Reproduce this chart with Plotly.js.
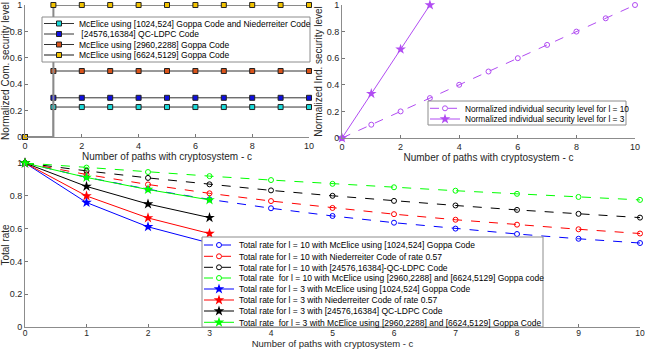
<!DOCTYPE html>
<html>
<head>
<meta charset="utf-8">
<script src="https://cdn.plot.ly/plotly-3.0.1.min.js"></script>
<style>
  html, body { margin: 0; padding: 0; background: #fff; }
  #chart { width: 648px; height: 349px; }
</style>
</head>
<body>
<div id="chart"></div>
<script>
// paths with cryptosystem
var c10 = [0, 1, 2, 3, 4, 5, 6, 7, 8, 9, 10];
var c3 = [0, 1, 2, 3];

// normalized combined security level (stairs from 0 to 1)
var comSecurity = {
  goppa1024: 0.227,
  qcldpc: 0.297,
  goppa2960: 0.5,
  goppa6624: 1.0
};

// normalized individual security level
var indSecL10 = [0, 0.1, 0.2, 0.3, 0.4, 0.5, 0.6, 0.7, 0.8, 0.9, 1.0];
var indSecL3 = [0, 0.333, 0.667, 1.0];

// total rate, l = 10
var rateL10Goppa1024 = [1, 0.913, 0.840, 0.778, 0.724, 0.677, 0.636, 0.600, 0.567, 0.538, 0.512];
var rateL10Nied = [1, 0.930, 0.869, 0.815, 0.768, 0.726, 0.688, 0.654, 0.624, 0.596, 0.570];
var rateL10Ldpc = [1, 0.952, 0.909, 0.870, 0.833, 0.800, 0.769, 0.741, 0.714, 0.690, 0.667];
var rateL10Goppa2960 = [1, 0.972, 0.945, 0.920, 0.896, 0.873, 0.852, 0.831, 0.812, 0.793, 0.775];

// total rate, l = 3
var rateL3Goppa1024 = [1, 0.759, 0.611, 0.512];
var rateL3Nied = [1, 0.799, 0.665, 0.570];
var rateL3Ldpc = [1, 0.857, 0.750, 0.667];
var rateL3Goppa2960 = [1, 0.912, 0.838, 0.775];

var W = 648, H = 349;
function px(x) { return x / W; }
function py(y) { return 1 - y / H; }

var FONT = 'Liberation Sans, Arial, sans-serif';
var TXT = '#262626';
var PURPLE = '#b14cf2';

function comLine(v) {
  return c10.map(function(c) { return c === 0 ? 0 : v; });
}

var traces = [];
var legends = {};
var legendCount = 0;

// one legend per entry so the rows can sit as tight as in the original
function addLegend(xpx, ypx, size) {
  legendCount += 1;
  var name = legendCount === 1 ? 'legend' : 'legend' + legendCount;
  legends[name] = {
    x: px(xpx), y: py(ypx), xanchor: 'left', yanchor: 'middle',
    bgcolor: 'rgba(0,0,0,0)', borderwidth: 0,
    font: {family: FONT, size: size, color: '#000'},
    itemwidth: 30, tracegroupgap: 0
  };
  return name;
}

// top-left: combined security level
var comSeries = [
  {name: 'McElice using [1024,524] Goppa Code and Niederreiter Code', v: comSecurity.goppa1024, color: '#19d9d9', line: '#333333', w: 1},
  {name: ' [24576,16384] QC-LDPC Code', v: comSecurity.qcldpc, color: '#1010e0', line: '#333333', w: 1},
  {name: 'McElice using [2960,2288] Goppa Code', v: comSecurity.goppa2960, color: '#d9531a', line: '#333333', w: 1},
  {name: 'McElice using [6624,5129] Goppa Code', v: comSecurity.goppa6624, color: '#f2c200', line: '#8a8a8a', w: 2}
];
var tlLegY = [23.5, 34, 44.5, 55];
comSeries.forEach(function(s, i) {
  traces.push({
    x: c10, y: comLine(s.v), type: 'scatter', mode: 'lines+markers',
    name: s.name, xaxis: 'x', yaxis: 'y', cliponaxis: false,
    line: {color: s.line, width: s.w, shape: 'hv'},
    marker: {symbol: 'square', size: 5, color: s.color, line: {color: '#222', width: 1}},
    legend: addLegend(39, tlLegY[i], 8.5)
  });
});

// top-right: individual security level
traces.push({
  x: c10, y: indSecL10, type: 'scatter', mode: 'lines+markers',
  name: 'Normalized individual security level for l = 10', xaxis: 'x2', yaxis: 'y2', cliponaxis: false,
  line: {color: PURPLE, width: 1, dash: 'dash'},
  marker: {symbol: 'circle-open', size: 5, color: PURPLE},
  legend: addLegend(425, 108.3, 8.3)
});
traces.push({
  x: c3, y: indSecL3, type: 'scatter', mode: 'lines+markers',
  name: 'Normalized individual security level for l = 3', xaxis: 'x2', yaxis: 'y2', cliponaxis: false,
  line: {color: PURPLE, width: 1},
  marker: {symbol: 'star', size: 8, color: PURPLE},
  legend: addLegend(425, 119, 8.3)
});

// bottom: total rate
var rateSeries = [
  {name: 'Total rate for l = 10 with McElice using [1024,524] Goppa Code', x: c10, y: rateL10Goppa1024, color: '#0000ff', l10: true},
  {name: 'Total rate for l = 10 with Niederreiter Code of rate 0.57', x: c10, y: rateL10Nied, color: '#ff0000', l10: true},
  {name: 'Total rate for l = 10 with [24576,16384]-QC-LDPC Code', x: c10, y: rateL10Ldpc, color: '#000000', l10: true},
  {name: 'Total rate  for l = 10 with McElice using [2960,2288] and [6624,5129] Goppa code', x: c10, y: rateL10Goppa2960, color: '#00ff00', l10: true},
  {name: 'Total rate for l = 3 with McElice using [1024,524] Goppa Code', x: c3, y: rateL3Goppa1024, color: '#0000ff', l10: false},
  {name: 'Total rate for l = 3 with Niederreiter Code of rate 0.57', x: c3, y: rateL3Nied, color: '#ff0000', l10: false},
  {name: 'Total rate for l = 3 with [24576,16384] QC-LDPC Code', x: c3, y: rateL3Ldpc, color: '#000000', l10: false},
  {name: 'Total rate  for l = 3 with McElice using [2960,2288] and [6624,5129] Goppa Code', x: c3, y: rateL3Goppa2960, color: '#00ff00', l10: false}
];
var bLegY = [245, 256.3, 267.3, 278, 289, 300, 311, 322.3];
rateSeries.forEach(function(s, i) {
  traces.push({
    x: s.x, y: s.y, type: 'scatter', mode: 'lines+markers',
    name: s.name, xaxis: 'x3', yaxis: 'y3', cliponaxis: false,
    line: {color: s.color, width: 1, dash: s.l10 ? 'dash' : 'solid'},
    marker: s.l10 ? {symbol: 'circle-open', size: 5, color: s.color}
                  : {symbol: 'star', size: 8, color: s.color},
    legend: addLegend(199, bLegY[i], 8.5)
  });
});

function xax(domain, anchor) {
  return {
    domain: domain, anchor: anchor, range: [0, 10], autorange: false,
    tickvals: [0, 2, 4, 6, 8, 10], ticks: 'inside', ticklen: 3, tickcolor: '#777',
    showline: true, linecolor: '#8c8c8c', zeroline: false, showgrid: false,
    tickfont: {family: FONT, size: 9, color: TXT},
    title: {text: 'Number of paths with cryptosystem - c', font: {family: FONT, size: 10, color: TXT}, standoff: 1}
  };
}
function yax(domain, anchor, title) {
  return {
    domain: domain, anchor: anchor, range: [0, 1], autorange: false,
    tickvals: [0, 0.2, 0.4, 0.6, 0.8, 1], ticktext: ['0', '0.2', '0.4', '0.6', '0.8', '1'],
    ticks: 'inside', ticklen: 3, tickcolor: '#777',
    showline: true, linecolor: '#8c8c8c', zeroline: false, showgrid: false,
    tickfont: {family: FONT, size: 9, color: TXT},
    title: {text: title, font: {family: FONT, size: 10, color: TXT}, standoff: 2}
  };
}

var xa3 = xax([px(25), px(640)], 'y3');
xa3.tickvals = c10;
xa3.tickfont.size = 8.5;
xa3.ticklabelstandoff = -2;
xa3.title.font.size = 9.5;
xa3.title.standoff = 0;

var layout = Object.assign({
  width: W, height: H,
  margin: {l: 0, r: 0, t: 0, b: 0},
  paper_bgcolor: '#fff', plot_bgcolor: 'rgba(0,0,0,0)',
  showlegend: true,
  font: {family: FONT, color: TXT},
  xaxis: xax([px(25), px(309)], 'y'),
  yaxis: yax([py(137), py(5)], 'x', 'Normalized Com. security level'),
  xaxis2: xax([px(342), px(635)], 'y2'),
  yaxis2: yax([py(138), py(5)], 'x2', 'Normalized Ind. security level'),
  xaxis3: xa3,
  yaxis3: yax([py(327), py(163)], 'x3', 'Total rate'),
  shapes: [
    {type: 'rect', xref: 'paper', yref: 'paper', x0: px(42), x1: px(310), y0: py(62), y1: py(17),
     fillcolor: '#fff', line: {color: '#8c8c8c', width: 1}, layer: 'above'},
    {type: 'rect', xref: 'paper', yref: 'paper', x0: px(428), x1: px(626), y0: py(125), y1: py(101),
     fillcolor: '#fff', line: {color: '#8c8c8c', width: 1}, layer: 'above'},
    {type: 'rect', xref: 'paper', yref: 'paper', x0: px(202), x1: px(543), y0: py(327), y1: py(237),
     fillcolor: '#fff', line: {color: '#8c8c8c', width: 1}, layer: 'above'}
  ]
}, legends);

Plotly.newPlot('chart', traces, layout, {staticPlot: true, displayModeBar: false});
</script>
</body>
</html>
